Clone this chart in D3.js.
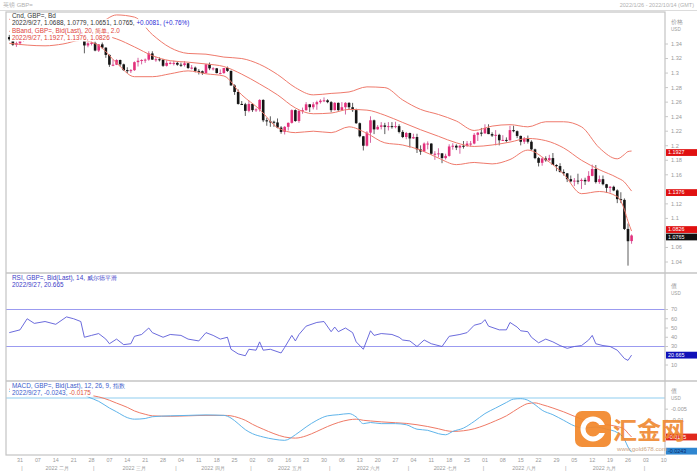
<!DOCTYPE html>
<html><head><meta charset="utf-8">
<script src="https://cdn.jsdelivr.net/npm/d3@7"></script>
<style>body{margin:0;background:#fff;} svg{display:block;font-family:"Liberation Sans",Arial,sans-serif;}</style>
</head><body><svg id="c" width="697" height="472"></svg>
<script>
// ---------------- DATA ----------------
const startDate = "2022-01-26";
// daily candles [open, high, low, close], GBP= 2022/1/26 .. 2022/9/27
const ohlc = [
[1.3495,1.3525,1.3445,1.3465],[1.3465,1.3475,1.3375,1.3390],[1.3390,1.3435,1.3360,1.3410],[1.3410,1.3455,1.3385,1.3445],
[1.3445,1.3515,1.3430,1.3505],[1.3505,1.3595,1.3500,1.3590],[1.3590,1.3640,1.3505,1.3600],[1.3600,1.3625,1.3500,1.3530],
[1.3530,1.3560,1.3505,1.3530],[1.3530,1.3555,1.3500,1.3535],[1.3535,1.3580,1.3520,1.3560],[1.3560,1.3645,1.3510,1.3560],
[1.3560,1.3580,1.3520,1.3555],[1.3555,1.3565,1.3490,1.3530],[1.3530,1.3560,1.3495,1.3530],[1.3530,1.3575,1.3505,1.3545],
[1.3545,1.3640,1.3540,1.3610],[1.3610,1.3625,1.3585,1.3590],[1.3590,1.3640,1.3560,1.3595],[1.3595,1.3620,1.3535,1.3570],
[1.3570,1.3600,1.3545,1.3560],[1.3560,1.3570,1.3272,1.3380],[1.3380,1.3425,1.3355,1.3410],[1.3410,1.3440,1.3380,1.3415],
[1.3415,1.3435,1.3300,1.3310],[1.3310,1.3400,1.3290,1.3395],[1.3395,1.3420,1.3330,1.3350],[1.3350,1.3355,1.3210,1.3250],
[1.3250,1.3255,1.3085,1.3115],[1.3115,1.3185,1.3095,1.3115],[1.3115,1.3190,1.3110,1.3180],[1.3180,1.3185,1.3090,1.3120],
[1.3120,1.3130,1.3030,1.3040],[1.3040,1.3080,1.3000,1.3035],[1.3035,1.3055,1.3000,1.3040],[1.3040,1.3160,1.3030,1.3150],
[1.3150,1.3210,1.3090,1.3170],[1.3170,1.3190,1.3120,1.3180],[1.3180,1.3200,1.3140,1.3185],[1.3185,1.3300,1.3170,1.3270],
[1.3270,1.3300,1.3180,1.3185],[1.3185,1.3225,1.3155,1.3190],[1.3190,1.3215,1.3160,1.3185],[1.3185,1.3190,1.3085,1.3100],
[1.3100,1.3175,1.3090,1.3140],[1.3140,1.3160,1.3120,1.3140],[1.3140,1.3170,1.3105,1.3140],[1.3140,1.3155,1.3100,1.3115],
[1.3115,1.3145,1.3085,1.3110],[1.3110,1.3165,1.3090,1.3135],[1.3135,1.3135,1.3055,1.3070],[1.3070,1.3110,1.3050,1.3075],
[1.3075,1.3090,1.3010,1.3030],[1.3030,1.3055,1.2980,1.3025],[1.3025,1.3035,1.2975,1.3000],[1.3000,1.3125,1.2990,1.3120],
[1.3120,1.3145,1.3040,1.3065],[1.3065,1.3080,1.3035,1.3065],[1.3065,1.3070,1.2995,1.3000],[1.3000,1.3050,1.2985,1.3000],
[1.3000,1.3070,1.2990,1.3070],[1.3070,1.3090,1.3015,1.3030],[1.3030,1.3035,1.2825,1.2830],[1.2830,1.2845,1.2700,1.2740],
[1.2740,1.2775,1.2565,1.2575],[1.2575,1.2615,1.2560,1.2570],[1.2570,1.2590,1.2410,1.2480],[1.2480,1.2620,1.2460,1.2575],
[1.2575,1.2580,1.2465,1.2490],[1.2490,1.2515,1.2465,1.2500],[1.2500,1.2640,1.2470,1.2630],[1.2630,1.2640,1.2325,1.2350],
[1.2350,1.2385,1.2275,1.2335],[1.2335,1.2405,1.2260,1.2330],[1.2330,1.2345,1.2260,1.2320],[1.2320,1.2375,1.2240,1.2250],
[1.2250,1.2270,1.2165,1.2190],[1.2190,1.2270,1.2155,1.2260],[1.2260,1.2320,1.2210,1.2315],[1.2315,1.2500,1.2305,1.2490],
[1.2490,1.2500,1.2330,1.2340],[1.2340,1.2490,1.2315,1.2480],[1.2480,1.2525,1.2440,1.2490],[1.2490,1.2600,1.2480,1.2570],
[1.2570,1.2575,1.2465,1.2530],[1.2530,1.2600,1.2500,1.2570],[1.2570,1.2620,1.2495,1.2600],[1.2600,1.2640,1.2580,1.2620],
[1.2620,1.2665,1.2600,1.2625],[1.2625,1.2640,1.2585,1.2600],[1.2600,1.2615,1.2460,1.2490],[1.2490,1.2600,1.2485,1.2590],
[1.2590,1.2595,1.2480,1.2490],[1.2490,1.2600,1.2485,1.2530],[1.2530,1.2600,1.2430,1.2590],[1.2590,1.2600,1.2495,1.2530],
[1.2530,1.2590,1.2465,1.2490],[1.2490,1.2510,1.2300,1.2310],[1.2310,1.2320,1.2115,1.2130],[1.2130,1.2135,1.1935,1.2000],
[1.2000,1.2200,1.1990,1.2180],[1.2180,1.2405,1.2040,1.2350],[1.2350,1.2360,1.2160,1.2225],[1.2225,1.2285,1.2220,1.2260],
[1.2260,1.2325,1.2225,1.2280],[1.2280,1.2315,1.2160,1.2260],[1.2260,1.2325,1.2210,1.2270],[1.2270,1.2325,1.2235,1.2265],
[1.2265,1.2330,1.2240,1.2270],[1.2270,1.2295,1.2170,1.2190],[1.2190,1.2215,1.2105,1.2120],[1.2120,1.2190,1.2090,1.2175],
[1.2175,1.2180,1.1975,1.2100],[1.2100,1.2165,1.2095,1.2120],[1.2120,1.2165,1.1900,1.1950],[1.1950,1.2005,1.1875,1.1920],
[1.1920,1.2045,1.1915,1.2030],[1.2030,1.2060,1.1950,1.2030],[1.2030,1.2035,1.1875,1.1890],[1.1890,1.1925,1.1805,1.1890],
[1.1890,1.1965,1.1840,1.1895],[1.1895,1.1900,1.1760,1.1830],[1.1830,1.1890,1.1810,1.1860],[1.1860,1.2020,1.1850,1.1990],
[1.1990,1.2035,1.1945,1.2000],[1.2000,1.2020,1.1940,1.1975],[1.1975,1.2010,1.1890,1.2000],[1.2000,1.2065,1.1960,1.1995],
[1.1995,1.2065,1.1985,1.2030],[1.2030,1.2065,1.1990,1.2030],[1.2030,1.2175,1.2020,1.2150],[1.2150,1.2190,1.2065,1.2180],
[1.2180,1.2245,1.2130,1.2170],[1.2170,1.2295,1.2165,1.2245],[1.2245,1.2295,1.2160,1.2160],[1.2160,1.2185,1.2120,1.2140],
[1.2140,1.2215,1.2005,1.2150],[1.2150,1.2165,1.2005,1.2075],[1.2075,1.2145,1.2065,1.2080],[1.2080,1.2115,1.2045,1.2075],
[1.2075,1.2275,1.2070,1.2215],[1.2215,1.2275,1.2185,1.2200],[1.2200,1.2210,1.2105,1.2135],[1.2135,1.2140,1.2005,1.2055],
[1.2055,1.2120,1.2025,1.2100],[1.2100,1.2140,1.2030,1.2055],[1.2055,1.2075,1.1935,1.1950],[1.1950,1.1960,1.1815,1.1830],
[1.1830,1.1845,1.1715,1.1765],[1.1765,1.1840,1.1725,1.1825],[1.1825,1.1855,1.1780,1.1800],[1.1800,1.1875,1.1790,1.1830],
[1.1830,1.1900,1.1735,1.1735],[1.1735,1.1745,1.1650,1.1720],[1.1720,1.1760,1.1630,1.1640],[1.1640,1.1675,1.1590,1.1620],
[1.1620,1.1625,1.1500,1.1540],[1.1540,1.1590,1.1495,1.1510],[1.1510,1.1555,1.1445,1.1520],[1.1520,1.1615,1.1470,1.1515],
[1.1515,1.1550,1.1405,1.1530],[1.1530,1.1560,1.1460,1.1510],[1.1510,1.1650,1.1500,1.1585],[1.1585,1.1740,1.1580,1.1680],
[1.1680,1.1735,1.1480,1.1500],[1.1500,1.1590,1.1475,1.1540],[1.1540,1.1590,1.1455,1.1470],[1.1470,1.1475,1.1350,1.1420],
[1.1420,1.1445,1.1355,1.1435],[1.1435,1.1450,1.1375,1.1385],[1.1385,1.1400,1.1210,1.1265],[1.1265,1.1360,1.1210,1.1255],
[1.1255,1.1275,1.0840,1.0855],[1.0855,1.0930,1.0350,1.0686],[1.0688,1.0779,1.0651,1.0765]
];
const bbIdx   = [0,5,10,15,20,25,30,35,40,45,50,55,60,65,70,75,80,85,90,95,100,105,110,115,120,125,130,135,140,145,150,155,160,165,170,172,173,174];
const bbUpper = [1.3740,1.3735,1.3725,1.3650,1.3640,1.3680,1.3800,1.3770,1.3530,1.3350,1.3270,1.3260,1.3220,1.3200,1.3120,1.2980,1.2800,1.2700,1.2720,1.2740,1.2810,1.2800,1.2630,1.2500,1.2430,1.2340,1.2210,1.2270,1.2290,1.2260,1.2330,1.2330,1.2260,1.1970,1.1820,1.1880,1.1920,1.1927];
const bbMid   = [1.3575,1.3560,1.3550,1.3525,1.3545,1.3530,1.3470,1.3360,1.3240,1.3170,1.3150,1.3125,1.3090,1.2985,1.2850,1.2700,1.2520,1.2440,1.2450,1.2500,1.2490,1.2420,1.2320,1.2220,1.2130,1.2040,1.1990,1.2010,1.2050,1.2100,1.2070,1.1970,1.1800,1.1670,1.1560,1.1500,1.1440,1.1376];
const bbLower = [1.3410,1.3385,1.3375,1.3400,1.3450,1.3380,1.3140,1.2950,1.2950,1.2990,1.3030,1.2990,1.2960,1.2700,1.2500,1.2250,1.2180,1.2200,1.2180,1.2260,1.2170,1.2040,1.2010,1.1940,1.1830,1.1740,1.1770,1.1750,1.1810,1.1940,1.1810,1.1610,1.1340,1.1370,1.1300,1.1120,1.0960,1.0826];
// RSI (14)
const rsiIdx = [0,3,5,7,10,13,16,18,20,21,23,25,27,28,30,32,34,35,37,39,40,43,45,48,50,53,55,57,59,61,62,64,66,67,69,70,71,73,76,77,79,80,81,83,86,88,90,91,92,94,96,97,99,100,101,102,104,107,109,110,112,114,116,118,121,123,126,128,130,132,133,134,137,139,140,142,143,145,146,148,150,152,154,156,158,160,162,163,164,166,168,170,172,173,174];
const rsiVal = [45,48,60,55,57,54,62,60,57,40,42,44,38,33,38,32,33,41,43,50,45,40,43,42,38,36,45,42,38,40,27,22,20,27,26,35,26,27,23,29,42,36,43,52,56,57,46,51,46,50,45,35,27,37,47,42,44,43,40,37,36,30,37,33,30,41,43,45,53,55,59,52,48,48,56,51,47,46,40,34,38,35,31,28,30,31,37,42,33,31,30,26,17,15,20.665];
// MACD (12, 26, 9)
const macdIdx = [0,5,10,15,20,22,25,28,30,33,35,38,40,45,50,55,60,62,64,66,68,71,74,77,80,83,86,89,92,95,97,99,101,104,108,111,114,117,120,122,124,127,130,133,136,139,141,143,145,147,149,152,155,158,161,164,167,170,172,173,174];
const macdVal = [0.0030,0.0010,0.0015,0.0018,0.0020,0.0005,-0.0015,-0.0045,-0.0062,-0.0088,-0.0095,-0.0092,-0.0084,-0.0080,-0.0078,-0.0076,-0.0078,-0.0090,-0.0115,-0.0142,-0.0160,-0.0175,-0.0185,-0.0190,-0.0165,-0.0130,-0.0100,-0.0080,-0.0075,-0.0070,-0.0085,-0.0115,-0.0110,-0.0115,-0.0115,-0.0120,-0.0140,-0.0145,-0.0160,-0.0165,-0.0150,-0.0135,-0.0105,-0.0070,-0.0045,-0.0020,-0.0005,-0.0003,-0.0010,-0.0030,-0.0055,-0.0075,-0.0100,-0.0125,-0.0135,-0.0130,-0.0140,-0.0155,-0.0185,-0.0220,-0.0243];
const signalVal = [0.0040,0.0015,0.0012,0.0014,0.0017,0.0013,0.0005,-0.0010,-0.0023,-0.0042,-0.0058,-0.0073,-0.0080,-0.0082,-0.0080,-0.0078,-0.0078,-0.0080,-0.0088,-0.0100,-0.0118,-0.0140,-0.0160,-0.0175,-0.0180,-0.0170,-0.0150,-0.0128,-0.0110,-0.0098,-0.0095,-0.0100,-0.0103,-0.0107,-0.0111,-0.0114,-0.0120,-0.0128,-0.0138,-0.0146,-0.0150,-0.0147,-0.0138,-0.0122,-0.0102,-0.0080,-0.0060,-0.0040,-0.0025,-0.0022,-0.0030,-0.0045,-0.0062,-0.0082,-0.0100,-0.0112,-0.0120,-0.0128,-0.0140,-0.0158,-0.0175];
// axis tick labels (those hidden behind value tags in the reference are left out)
const priceTicks = [1.34,1.32,1.3,1.28,1.26,1.24,1.22,1.2,1.18,1.16,1.12,1.1,1.06,1.04];
const rsiTicks = [70,60,50,40,30,10];
const macdTicks = [-0.005,-0.01];
const monthNames = ["一月","二月","三月","四月","五月","六月","七月","八月","九月","十月"];
// legend texts
const mainLegend = [
  [["Cnd, GBP=, Bd","#333"]],
  [["2022/9/27, 1.0688, 1.0779, 1.0651, 1.0765, ","#333"],["+0.0081, (+0.76%)","#2b2bd6"]],
  [["BBand, GBP=, Bid(Last), 20, 简单, 2.0","#e0433a"]],
  [["2022/9/27, 1.1927, 1.1376, 1.0826","#e0433a"]]
];
const rsiLegend = [
  [["RSI, GBP=, Bid(Last), 14, 威尔德平滑","#3c3cc8"]],
  [["2022/9/27, 20.665","#3c3cc8"]]
];
const macdLegend = [
  [["MACD, GBP=, Bid(Last), 12, 26, 9, 指数","#3c5ccc"]],
  [["2022/9/27, -0.0243, ","#3c5ccc"],["-0.0175","#e0533a"]]
];

// ---------------- LAYOUT ----------------
const svg = d3.select("#c");
const L = 6, R = 665;
const P = { main:[12,273], rsi:[273,381], macd:[381,455] };
const C = { up:"#e3307c", down:"#151515", bb:"#ef7a6c", rsi:"#5a5ad8", ref:"#9b9bf0",
            macd:"#5fb4ea", signal:"#ef7a66", zero:"#8fcdf0", frame:"#c4c4c4", axis:"#9a9a9a" };

// trading days (weekdays) starting at startDate
const parse = d3.timeParse("%Y-%m-%d");
const days = [];
for (let d = parse(startDate); days.length < ohlc.length + 14; d = d3.timeDay.offset(d, 1)) {
  if (d.getDay() !== 0 && d.getDay() !== 6) days.push(new Date(d));
}
const x = d3.scaleLinear().domain([3, 173]).range([20, 628]);
const y = d3.scaleLinear().domain([1.34, 1.04]).range([44, 262]);
const yR = d3.scaleLinear().domain([70, 30]).range([309.5, 346.5]);
const yM = d3.scaleLinear().domain([0, -0.0175]).range([398, 437]);

// clip paths
const defs = svg.append("defs");
Object.entries(P).forEach(([k, v]) => {
  defs.append("clipPath").attr("id", "clip-" + k).append("rect")
    .attr("x", L).attr("y", v[0]).attr("width", R - L).attr("height", v[1] - v[0]);
});

// header
svg.append("text").attr("x", 3).attr("y", 7).attr("font-size", 6).attr("fill", "#b0b0b0").text("英镑 GBP=");
svg.append("text").attr("x", 694).attr("y", 7).attr("text-anchor", "end").attr("font-size", 5.5).attr("fill", "#b0b0b0")
  .text("2022/1/26 - 2022/10/14 (GMT)");
svg.append("line").attr("x1", 0).attr("x2", 697).attr("y1", 10.5).attr("y2", 10.5).attr("stroke", "#dcdcdc");

// ---------------- MAIN PANEL ----------------
const gMain = svg.append("g").attr("clip-path", "url(#clip-main)");
const candles = gMain.selectAll("g.c").data(ohlc).join("g").attr("class", "c");
candles.append("line")
  .attr("x1", (d, i) => x(i)).attr("x2", (d, i) => x(i))
  .attr("y1", d => y(d[1])).attr("y2", d => y(d[2]))
  .attr("stroke", d => d[3] >= d[0] ? "#c8408a" : "#333").attr("stroke-width", 0.8);
candles.append("rect")
  .attr("x", (d, i) => x(i) - 1.3).attr("width", 2.6)
  .attr("y", d => y(Math.max(d[0], d[3])))
  .attr("height", d => Math.max(1, Math.abs(y(d[0]) - y(d[3]))))
  .attr("fill", d => d[3] >= d[0] ? C.up : C.down);

const bbLine = (arr) => d3.line().x((d, k) => x(bbIdx[k])).y(d => y(d)).curve(d3.curveMonotoneX)(arr);
[bbUpper, bbMid, bbLower].forEach(a => {
  gMain.append("path").attr("d", bbLine(a)).attr("fill", "none").attr("stroke", C.bb).attr("stroke-width", 1);
});

// ---------------- RSI PANEL ----------------
const gRsi = svg.append("g").attr("clip-path", "url(#clip-rsi)");
[70, 30].forEach(v => gRsi.append("line").attr("x1", L).attr("x2", R).attr("y1", yR(v)).attr("y2", yR(v))
  .attr("stroke", C.ref).attr("stroke-width", 1.2));
gRsi.append("path")
  .attr("d", d3.line().x((d, k) => x(rsiIdx[k])).y(d => yR(d))(rsiVal))
  .attr("fill", "none").attr("stroke", C.rsi).attr("stroke-width", 0.9);

// ---------------- MACD PANEL ----------------
const gMacd = svg.append("g").attr("clip-path", "url(#clip-macd)");
gMacd.append("line").attr("x1", L).attr("x2", R).attr("y1", yM(0)).attr("y2", yM(0)).attr("stroke", C.zero).attr("stroke-width", 1.2);
const mLine = d3.line().x((d, k) => x(macdIdx[k])).y(d => yM(d)).curve(d3.curveMonotoneX);
gMacd.append("path").attr("d", mLine(signalVal)).attr("fill", "none").attr("stroke", C.signal).attr("stroke-width", 1);
gMacd.append("path").attr("d", mLine(macdVal)).attr("fill", "none").attr("stroke", C.macd).attr("stroke-width", 1);

// ---------------- LEGENDS ----------------
function legend(rows, y0) {
  const g = svg.append("g");
  rows.forEach((row, r) => {
    const t = g.append("text").attr("x", 12).attr("y", y0 + r * 7.4).attr("font-size", 6.4);
    row.forEach(([s, col]) => t.append("tspan").attr("fill", col).text(s));
    const b = t.node().getBBox();
    g.insert("rect", "text").attr("x", b.x - 2).attr("y", b.y - 0.3).attr("width", b.width + 4).attr("height", b.height + 0.6).attr("fill", "#fff");
  });
}
legend(mainLegend, 18);
legend(rsiLegend, 279.5);
legend(macdLegend, 388);

// ---------------- FRAME ----------------
svg.append("rect").attr("x", L).attr("y", 12).attr("width", R - L).attr("height", 455 - 12)
  .attr("fill", "none").attr("stroke", C.frame).attr("stroke-width", 1.2);
[273, 381].forEach(v => svg.append("line").attr("x1", L).attr("x2", R + 32).attr("y1", v).attr("y2", v)
  .attr("stroke", C.frame).attr("stroke-width", 1.6));

// ---------------- RIGHT AXES ----------------
const ax = svg.append("g").attr("font-size", 5.6).attr("fill", C.axis);
function yAxisLabels(ticks, scale, fmt) {
  ticks.forEach(v => {
    ax.append("line").attr("x1", R).attr("x2", R + 3).attr("y1", scale(v)).attr("y2", scale(v)).attr("stroke", "#c8c8c8");
    ax.append("text").attr("x", R + 6).attr("y", scale(v)).attr("dy", "0.35em").text(fmt(v));
  });
}
const trim = v => String(+v.toFixed(4));
yAxisLabels(priceTicks, y, trim);
yAxisLabels(rsiTicks, yR, v => String(v));
yAxisLabels(macdTicks, yM, trim);
[["价格", 24], ["USD", 31], ["值", 288], ["USD", 295], ["值", 393], ["USD", 400]].forEach(([s, yy], k) => {
  ax.append("text").attr("x", R + 6).attr("y", yy).attr("font-size", k % 2 ? 4.6 : 6).text(s);
});

function tag(yy, fill, label, txt) {
  svg.append("rect").attr("x", R + 1).attr("y", yy - 3.4).attr("width", 697 - R - 1).attr("height", 6.8).attr("fill", fill);
  svg.append("text").attr("x", R + 3).attr("y", yy).attr("dy", "0.35em").attr("font-size", 5.4).attr("fill", txt || "#fff").text(label);
}
tag(y(bbUpper[bbUpper.length - 1]) + 1.5, "#e01010", "1.1927");
tag(y(bbMid[bbMid.length - 1]) + 1.5, "#e01010", "1.1376");
tag(y(bbLower[bbLower.length - 1]) - 1.5, "#e01010", "1.0826");
tag(y(ohlc[ohlc.length - 1][3]) + 1.5, "#101010", "1.0765");
tag(yR(rsiVal[rsiVal.length - 1]), "#1010b8", "20.665");
tag(yM(signalVal[signalVal.length - 1]), "#e0281c", "-0.0175");
tag(yM(macdVal[macdVal.length - 1]) - 1, "#2f86d0", "-0.0243", "#0b2a6a");

// ---------------- TIME AXIS ----------------
const tx = svg.append("g").attr("font-size", 5.4).attr("fill", C.axis).attr("text-anchor", "middle");
const fmtDay = d3.timeFormat("%d");
days.forEach((d, i) => {
  if (d.getDay() === 1 && x(i) <= 670) tx.append("text").attr("x", x(i)).attr("y", 462).text(fmtDay(d));
});
const monthStarts = [];
days.forEach((d, i) => { if (i === 0 || d.getMonth() !== days[i - 1].getMonth()) monthStarts.push(i); });
monthStarts.forEach((s, k) => {
  if (k > 0) tx.append("text").attr("x", x(s) - 1.5).attr("y", 470).text("|");
  const e = monthStarts[k + 1];
  if (k > 0 && e !== undefined) {
    tx.append("text").attr("x", (x(s) + x(e)) / 2 - 2).attr("y", 470)
      .text("2022 " + monthNames[days[s].getMonth()]);
  }
});

// ---------------- WATERMARK ----------------
const wm = svg.append("g").attr("opacity", 0.92);
wm.append("rect").attr("x", 575).attr("y", 411).attr("width", 36).attr("height", 36).attr("rx", 7).attr("fill", "#f3872a");
wm.append("circle").attr("cx", 593).attr("cy", 429).attr("r", 10).attr("fill", "none").attr("stroke", "#fff").attr("stroke-width", 5);
wm.append("rect").attr("x", 598).attr("y", 425).attr("width", 8).attr("height", 8).attr("fill", "#f3872a");
wm.append("text").attr("x", 613).attr("y", 439).attr("font-size", 24).attr("font-weight", "bold")
  .attr("font-family", "'Noto Sans CJK SC', sans-serif").attr("fill", "#ef8a34").text("汇金网");
wm.append("text").attr("x", 617).attr("y", 451).attr("font-size", 6.2).attr("fill", "#c9a07a").text("www.gold678.com");
</script></body></html>
